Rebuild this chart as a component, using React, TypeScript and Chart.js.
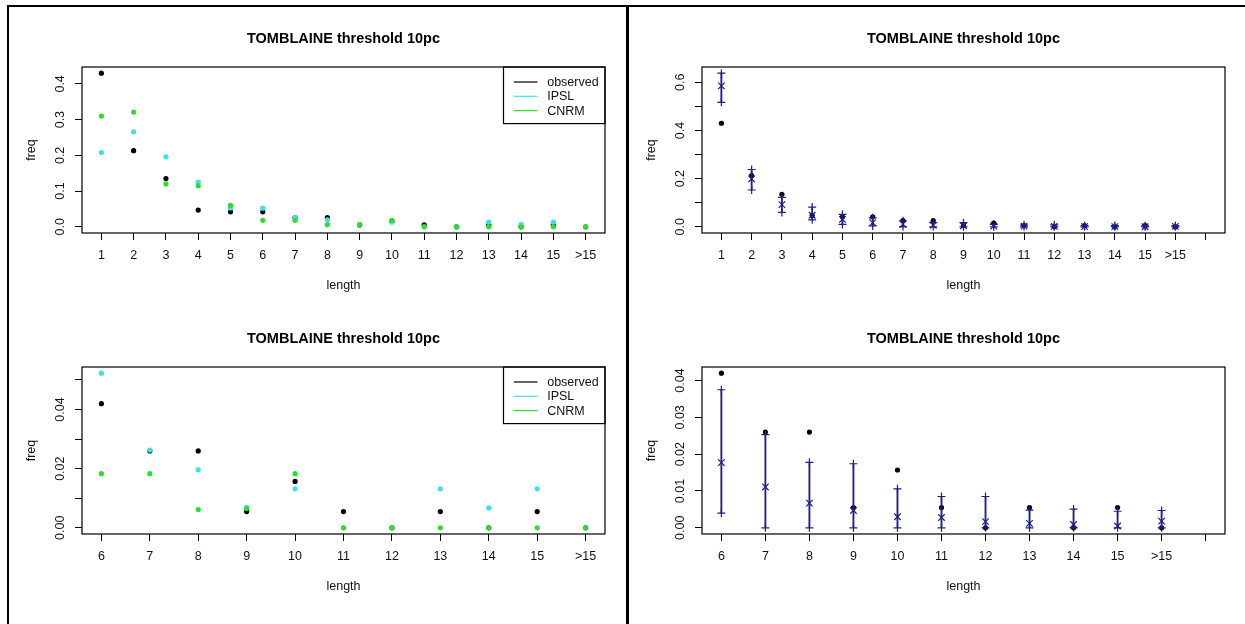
import React, { useEffect, useRef } from 'react';
import { Chart, registerables } from 'chart.js';

Chart.register(...registerables);

// ---------- data ----------
const lengthLabels = ['1', '2', '3', '4', '5', '6', '7', '8', '9', '10', '11', '12', '13', '14', '15', '>15'];
const lengthValues = [1, 2, 3, 4, 5, 6, 7, 8, 9, 10, 11, 12, 13, 14, 15, 16];

const observed = [0.43, 0.213, 0.135, 0.047, 0.042, 0.042, 0.026, 0.026, 0.0055, 0.0157, 0.0055, 0, 0.0055, 0, 0.0055, 0];
const ipsl = [0.208, 0.266, 0.196, 0.125, 0.053, 0.0523, 0.0263, 0.0196, 0.0069, 0.0132, 0, 0, 0.0132, 0.0067, 0.0132, 0];
const cnrm = [0.31, 0.321, 0.12, 0.115, 0.06, 0.0183, 0.0183, 0.0062, 0.0065, 0.0183, 0, 0, 0, 0, 0, 0];

const simHigh = [0.638, 0.238, 0.122, 0.082, 0.052, 0.0375, 0.0253, 0.0178, 0.0174, 0.0106, 0.0085, 0.0085, 0.0048, 0.0051, 0.0045, 0.0047];
const simMedian = [0.585, 0.199, 0.092, 0.048, 0.031, 0.0177, 0.0111, 0.0067, 0.0047, 0.003, 0.0028, 0.0017, 0.0012, 0.0009, 0.0005, 0.0018];
const simLow = [0.517, 0.153, 0.06, 0.029, 0.01, 0.004, 0, 0, 0, 0, 0, 0, 0, 0, 0, 0];

const zoomStart = 5; // index of length "6"

const yTicksFull = [0, 0.1, 0.2, 0.3, 0.4];
const yLabelsFull = ['0.0', '0.1', '0.2', '0.3', '0.4'];
const yTicksZoom = [0, 0.01, 0.02, 0.03, 0.04, 0.05];
const yLabelsZoom = ['0.00', '', '0.02', '', '0.04', ''];
const yTicksSimFull = [0, 0.1, 0.2, 0.3, 0.4, 0.5, 0.6];
const yLabelsSimFull = ['0.0', '', '0.2', '', '0.4', '', '0.6'];
const yTicksSimZoom = [0, 0.01, 0.02, 0.03, 0.04];
const yLabelsSimZoom = ['0.00', '0.01', '0.02', '0.03', '0.04'];

const titleText = 'TOMBLAINE threshold 10pc';
const seriesNames = ['observed', 'IPSL', 'CNRM'];

// ---------- styles ----------
const FONT = "'Liberation Sans', Arial, Helvetica, sans-serif";
const BLACK = '#000000';
const CYAN = '#3ee0e6';
const GREEN = '#2bdf2b';
const NAVY = '#1e1e8e';
const LABEL_FONT = { family: FONT, size: 12.5 };

function extend(vals: number[]): [number, number] {
  const lo = Math.min(...vals);
  const hi = Math.max(...vals);
  const d = (hi - lo) * 0.04;
  return [lo - d, hi + d];
}

function titlePlugin(text: string) {
  return {
    id: 'rtitle',
    afterDraw(chart: any) {
      const { ctx, chartArea: a } = chart;
      ctx.save();
      ctx.font = `bold 14.5px ${FONT}`;
      ctx.fillStyle = '#000';
      ctx.textAlign = 'center';
      ctx.textBaseline = 'middle';
      ctx.fillText(text, (a.left + a.right) / 2, a.top - 28.5);
      ctx.restore();
    },
  };
}

const boxPlugin = {
  id: 'rbox',
  afterDatasetsDraw(chart: any) {
    const { ctx, chartArea: a } = chart;
    ctx.save();
    ctx.strokeStyle = '#000';
    ctx.lineWidth = 1.2;
    ctx.strokeRect(a.left, a.top, a.right - a.left, a.bottom - a.top);
    ctx.restore();
  },
};

const legendPlugin = {
  id: 'rlegend',
  afterDraw(chart: any) {
    const { ctx, chartArea: a } = chart;
    const w = 101.5;
    const h = 56.6;
    const x0 = a.right - w;
    const y0 = a.top;
    ctx.save();
    ctx.strokeStyle = '#000';
    ctx.lineWidth = 1.2;
    ctx.strokeRect(x0, y0, w, h);
    ctx.font = `12.5px ${FONT}`;
    ctx.textAlign = 'left';
    ctx.textBaseline = 'middle';
    chart.data.datasets.forEach((ds: any, i: number) => {
      const y = y0 + 15 + i * 14.3;
      ctx.strokeStyle = ds.backgroundColor;
      ctx.lineWidth = 1.2;
      ctx.beginPath();
      ctx.moveTo(x0 + 10.4, y);
      ctx.lineTo(x0 + 34, y);
      ctx.stroke();
      ctx.fillStyle = '#111';
      ctx.fillText(ds.label, x0 + 43.7, y + 0.5);
    });
    ctx.restore();
  },
};

type Spec = {
  xVals: number[];
  xLabels: string[];
  yTicks: number[];
  yLabels: string[];
  yRange: [number, number];
  yPad: number;
  datasets: any[];
  legend: boolean;
};

function makeConfig(spec: Spec): any {
  const xRange = extend(spec.xVals);
  const gridOpts = { drawOnChartArea: false, drawTicks: true, tickLength: 7, color: '#000', lineWidth: 1, offset: false };
  const plugins: any[] = [titlePlugin(titleText), boxPlugin];
  if (spec.legend) plugins.push(legendPlugin);
  return {
    type: 'scatter',
    data: { datasets: spec.datasets },
    plugins,
    options: {
      animation: false,
      responsive: false,
      maintainAspectRatio: false,
      events: [],
      layout: { padding: { top: 59, right: 11, left: 0, bottom: 0 } },
      plugins: { legend: { display: false }, tooltip: { enabled: false }, title: { display: false } },
      scales: {
        x: {
          type: 'linear',
          min: xRange[0],
          max: xRange[1],
          offset: false,
          afterBuildTicks: (s: any) => {
            s.ticks = spec.xVals.map((v) => ({ value: v }));
          },
          afterFit: (s: any) => {
            s.height = 75;
          },
          ticks: {
            autoSkip: false,
            minRotation: 0,
            maxRotation: 0,
            padding: 8.2,
            color: '#111',
            font: LABEL_FONT,
            callback: (_v: any, i: number) => spec.xLabels[i] ?? '',
          },
          grid: gridOpts,
          border: { display: false },
          title: { display: true, text: 'length', color: '#111', font: LABEL_FONT, padding: { top: 0, bottom: 15 } },
        },
        y: {
          type: 'linear',
          min: spec.yRange[0],
          max: spec.yRange[1],
          beginAtZero: false,
          afterBuildTicks: (s: any) => {
            s.ticks = spec.yTicks.map((v) => ({ value: v }));
          },
          afterFit: (s: any) => {
            s.width = 66;
          },
          ticks: {
            autoSkip: false,
            minRotation: 90,
            maxRotation: 90,
            crossAlign: 'center',
            padding: spec.yPad,
            color: '#111',
            font: LABEL_FONT,
            callback: (_v: any, i: number) => spec.yLabels[i] ?? '',
          },
          grid: gridOpts,
          border: { display: false },
          title: { display: true, text: 'freq', color: '#111', font: LABEL_FONT, padding: { top: 8, bottom: 0 } },
        },
      },
    },
  };
}

function dots(label: string, xs: number[], ys: number[], color: string, order: number) {
  return {
    type: 'scatter',
    label,
    data: xs.map((x, i) => ({ x, y: ys[i] })),
    backgroundColor: color,
    borderColor: color,
    borderWidth: 0,
    pointRadius: 2.6,
    pointHoverRadius: 2.6,
    order,
  };
}

function marks(xs: number[], ys: number[], style: string, radius: number, order: number) {
  return {
    type: 'scatter',
    label: style,
    data: xs.map((x, i) => ({ x, y: ys[i] })),
    pointStyle: style,
    pointRadius: radius,
    pointHoverRadius: radius,
    borderColor: NAVY,
    backgroundColor: NAVY,
    borderWidth: 1.2,
    order,
  };
}

function ranges(xs: number[], lo: number[], hi: number[], order: number) {
  return {
    type: 'bar',
    label: 'range',
    data: xs.map((x, i) => ({ x, y: [lo[i], hi[i]] })),
    backgroundColor: NAVY,
    borderWidth: 0,
    barThickness: 1.2,
    grouped: false,
    order,
  };
}

function comparisonSpec(from: number, yTicks: number[], yLabels: string[], yPad: number): Spec {
  const xs = lengthValues.slice(from);
  const o = observed.slice(from);
  const p = ipsl.slice(from);
  const c = cnrm.slice(from);
  return {
    xVals: xs,
    xLabels: lengthLabels.slice(from),
    yTicks,
    yLabels,
    yRange: extend([...o, ...p, ...c]),
    yPad,
    legend: true,
    datasets: [
      dots(seriesNames[0], xs, o, BLACK, 3),
      dots(seriesNames[1], xs, p, CYAN, 2),
      dots(seriesNames[2], xs, c, GREEN, 1),
    ],
  };
}

function simulationSpec(from: number, yTicks: number[], yLabels: string[], yPad: number): Spec {
  const xs = lengthValues.slice(from);
  const o = observed.slice(from);
  const lo = simLow.slice(from);
  const md = simMedian.slice(from);
  const hi = simHigh.slice(from);
  const tickXs = [...xs, xs[xs.length - 1] + 1];
  return {
    xVals: tickXs,
    xLabels: lengthLabels.slice(from),
    yTicks,
    yLabels,
    yRange: extend([...o, ...lo, ...md, ...hi]),
    yPad,
    legend: false,
    datasets: [
      dots(seriesNames[0], xs, o, BLACK, 5),
      ranges(xs, lo, hi, 4),
      marks(xs, hi, 'cross', 4, 3),
      marks(xs, lo, 'cross', 4, 2),
      marks(xs, md, 'crossRot', 4.6, 1),
    ],
  };
}

function Panel({ left, top, width, height, spec }: { left: number; top: number; width: number; height: number; spec: Spec }) {
  const ref = useRef<HTMLCanvasElement>(null);
  useEffect(() => {
    const chart = new Chart(ref.current as HTMLCanvasElement, makeConfig(spec));
    return () => chart.destroy();
  }, []);
  return (
    <canvas
      ref={ref}
      width={width}
      height={height}
      style={{ position: 'absolute', left, top, width, height }}
    />
  );
}

export default function App() {
  const line = (l: number, t: number, w: number, h: number) => (
    <div style={{ position: 'absolute', left: l, top: t, width: w, height: h, background: '#000' }} />
  );
  return (
    <div style={{ position: 'absolute', left: 0, top: 0, width: 1245, height: 624, background: '#fff', overflow: 'hidden' }}>
      {line(7, 5, 1238, 2)}
      {line(7, 5, 2, 619)}
      {line(626, 5, 3, 619)}
      <Panel left={16} top={8} width={600} height={300} spec={comparisonSpec(0, yTicksFull, yLabelsFull, 5.6)} />
      <Panel left={16} top={308} width={600} height={301} spec={comparisonSpec(zoomStart, yTicksZoom, yLabelsZoom, 2.1)} />
      <Panel left={636} top={8} width={600} height={300} spec={simulationSpec(0, yTicksSimFull, yLabelsSimFull, 5.6)} />
      <Panel left={636} top={308} width={600} height={301} spec={simulationSpec(zoomStart, yTicksSimZoom, yLabelsSimZoom, 2.1)} />
    </div>
  );
}
